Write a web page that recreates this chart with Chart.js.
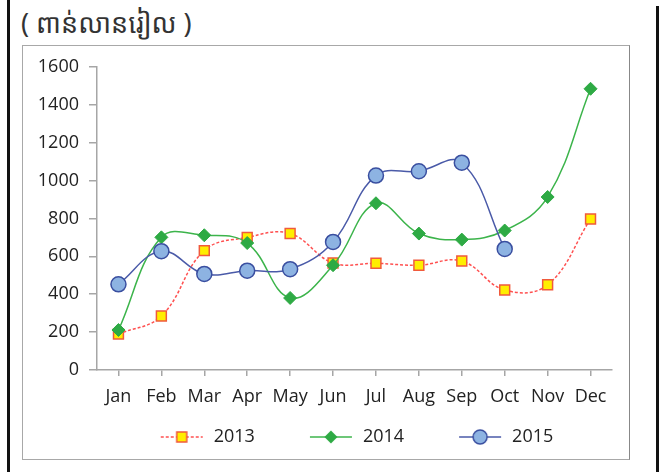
<!DOCTYPE html>
<html>
<head>
<meta charset="utf-8">
<script src="https://cdn.jsdelivr.net/npm/chart.js@4"></script>
<style>
  body { margin: 0; background: #fff; width: 662px; height: 472px; position: relative; overflow: hidden; }
  .barL { position: absolute; left: 7px; top: 0; width: 3px; height: 472px; background: #111; }
  .barR { position: absolute; left: 656px; top: 6px; width: 3px; height: 466px; background: #111; }
  .title { position: absolute; left: 21px; top: 4px; font: 27px "Noto Sans Khmer", "Khmer OS System", "Noto Sans", sans-serif; color: #333; }
  .frame { position: absolute; left: 22px; top: 45px; width: 606px; height: 413px; border: 1px solid #a8a8a8; border-right-color: #888; }
</style>
</head>
<body>
<div class="barL"></div>
<div class="barR"></div>
<div class="title">( ពាន់លានរៀល )</div>
<div class="frame"><canvas id="c" width="606" height="413"></canvas></div>
<script>
"use strict";
var months = ['Jan', 'Feb', 'Mar', 'Apr', 'May', 'Jun', 'Jul', 'Aug', 'Sep', 'Oct', 'Nov', 'Dec'];
var years = ['2013', '2014', '2015'];
var v2013 = [190, 285, 630, 700, 720, 565, 563, 553, 575, 422, 450, 797];
var v2014 = [211, 700, 711, 670, 380, 553, 880, 720, 688, 736, 913, 1484];
var v2015 = [452, 627, 507, 524, 532, 676, 1026, 1049, 1094, 639, null, null];
var yTicks = [0, 200, 400, 600, 800, 1000, 1200, 1400, 1600];

var txt = '#222';
var fnt = { family: '"Open Sans", sans-serif', size: 18 };

// legend swatch: line + marker, with transparent margin on the left for spacing
function swatch(kind) {
    var c = document.createElement('canvas');
    c.width = 89; c.height = 18;
    var g = c.getContext('2d');
    var y = 9, x0 = 45, x1 = 87, mx = 66;
    g.lineWidth = 1.5;
    if (kind === 0) { g.strokeStyle = '#ff5050'; g.setLineDash([3, 2]); }
    if (kind === 1) g.strokeStyle = '#3cb44b';
    if (kind === 2) g.strokeStyle = '#4a5aa8';
    g.beginPath(); g.moveTo(x0, y); g.lineTo(x1, y); g.stroke();
    g.setLineDash([]);
    if (kind === 0) {
        g.fillStyle = '#ffee00'; g.strokeStyle = '#f05a3c';
        g.fillRect(mx - 5, y - 5, 10, 10); g.strokeRect(mx - 5, y - 5, 10, 10);
    } else if (kind === 1) {
        g.fillStyle = '#2eaa44';
        g.beginPath(); g.moveTo(mx, y - 6.5); g.lineTo(mx + 6.5, y); g.lineTo(mx, y + 6.5); g.lineTo(mx - 6.5, y); g.closePath(); g.fill();
    } else {
        g.fillStyle = '#8db3e2'; g.strokeStyle = '#3a4fa0';
        g.beginPath(); g.arc(mx, y, 7, 0, Math.PI * 2); g.fill(); g.stroke();
    }
    return c;
}
var swatches = [swatch(0), swatch(1), swatch(2)];

// nudge legend so it centres under the plot like the original
var legendShift = {
    id: 'legendShift',
    afterLayout: function(chart) { chart.legend.left += 34; }
};

new Chart(document.getElementById('c').getContext('2d'), {
    type: 'line',
    data: {
        labels: months,
        datasets: [{
            label: years[0], data: v2013, order: 2,
            borderColor: '#ff5050', borderWidth: 1.5, borderDash: [3, 2], tension: 0.4,
            pointStyle: 'rect', pointRadius: 7, pointBackgroundColor: '#ffee00',
            pointBorderColor: '#f05a3c', pointBorderWidth: 1.5
        }, {
            label: years[1], data: v2014, order: 1,
            borderColor: '#3cb44b', borderWidth: 1.5, tension: 0.4,
            pointStyle: 'rectRot', pointRadius: 6.5, pointBackgroundColor: '#2eaa44',
            pointBorderColor: '#2eaa44', pointBorderWidth: 1
        }, {
            label: years[2], data: v2015, order: 0,
            borderColor: '#4a5aa8', borderWidth: 1.5, tension: 0.4,
            pointStyle: 'circle', pointRadius: 7.5, pointBackgroundColor: '#8db3e2',
            pointBorderColor: '#3a4fa0', pointBorderWidth: 1.5
        }]
    },
    plugins: [legendShift],
    options: {
        responsive: false,
        animation: false,
        layout: { padding: { left: 0, right: 17, top: 20, bottom: 3 } },
        plugins: {
            tooltip: { enabled: false },
            legend: {
                position: 'bottom',
                labels: {
                    usePointStyle: true,
                    pointStyleWidth: 89,
                    padding: 10,
                    color: txt,
                    font: fnt,
                    sort: function(a, b) { return a.datasetIndex - b.datasetIndex; },
                    generateLabels: function(chart) {
                        var items = Chart.defaults.plugins.legend.labels.generateLabels(chart);
                        items.forEach(function(it) { it.pointStyle = swatches[it.datasetIndex]; });
                        return items;
                    }
                }
            }
        },
        scales: {
            x: {
                offset: true,
                grid: { offset: false, drawOnChartArea: false, tickLength: 6, color: '#a6a6a6', lineWidth: 1.5 },
                border: { color: '#a6a6a6', width: 1.5 },
                ticks: { color: txt, font: fnt, padding: 10, maxRotation: 0, autoSkip: false },
                afterFit: function(s) { s.height = 48; }
            },
            y: {
                min: 0, max: 1600,
                afterBuildTicks: function(s) { s.ticks = yTicks.map(function(v) { return { value: v }; }); },
                grid: { drawOnChartArea: false, tickLength: 8, color: '#a6a6a6', lineWidth: 1.5 },
                border: { color: '#a6a6a6', width: 1.5 },
                ticks: { color: txt, font: fnt, padding: 10, callback: function(v) { return String(v); } },
                afterFit: function(s) { s.width = 74; }
            }
        }
    }
});
</script>
</body>
</html>
